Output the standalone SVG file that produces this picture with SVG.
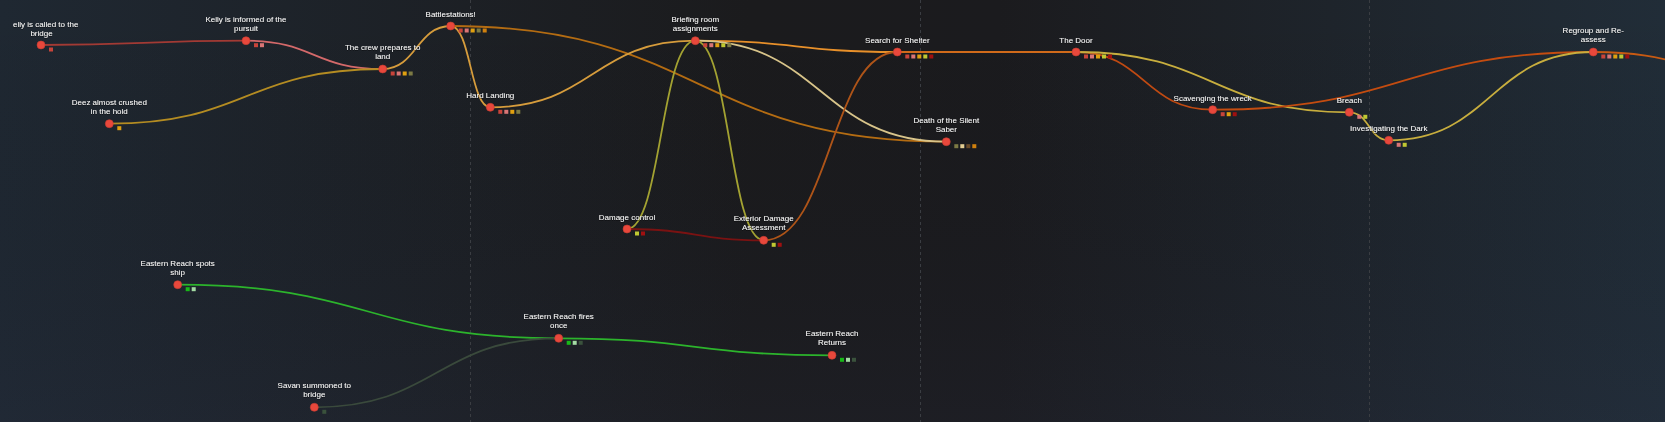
<svg xmlns="http://www.w3.org/2000/svg" width="1665" height="422" viewBox="0 0 1665 422">
<defs>
<linearGradient id="bg" x1="0" y1="0" x2="1" y2="0">
<stop offset="0" stop-color="#1f2832"/>
<stop offset="0.45" stop-color="#1b1b1d"/>
<stop offset="0.6" stop-color="#1b1b1e"/>
<stop offset="1" stop-color="#212d38"/>
</linearGradient>
<linearGradient id="bgv" x1="0" y1="0" x2="0" y2="1">
<stop offset="0" stop-color="#000" stop-opacity="0"/>
<stop offset="1" stop-color="#2a2f48" stop-opacity="0.15"/>
</linearGradient>
<filter id="ts" x="-10%" y="-30%" width="120%" height="160%">
<feDropShadow dx="0" dy="0.5" stdDeviation="0.6" flood-color="#000" flood-opacity="0.9"/>
</filter>
</defs>
<style>
.lbl{font-family:"Liberation Sans",Arial,sans-serif;font-size:8px;fill:#f2f2f2;text-anchor:middle;filter:url(#ts)}
.nd{fill:#e8483c;stroke:#c83a30;stroke-width:0.6}
.e{fill:none;stroke-width:1.8;stroke-linecap:round}
.grid{stroke:#3a3d42;stroke-width:1;stroke-dasharray:3,3}
</style>
<rect width="1665" height="422" fill="url(#bg)"/>
<rect width="1665" height="422" fill="url(#bgv)"/>
<g id="grid">
<line class="grid" x1="470.5" y1="0" x2="470.5" y2="422"/>
<line class="grid" x1="920.5" y1="0" x2="920.5" y2="422"/>
<line class="grid" x1="1369.5" y1="0" x2="1369.5" y2="422"/>
</g>
<g id="connectors">
<path class="e" stroke="#a23a34" d="M41,45 C143.5,45 143.5,40.7 246,40.7"/>
<path class="e" stroke="#d4696a" d="M246,40.7 C314,40.7 314,69 382.7,69"/>
<path class="e" stroke="#b48c22" d="M109.3,123.7 C246,123.7 246,69 382.7,69"/>
<path class="e" stroke="#d69c3c" d="M382.7,69 C416.7,69 416.7,26 450.7,26"/>
<path class="e" stroke="#d69c3c" d="M450.7,26 C470.5,26 470.5,107.3 490.3,107.3"/>
<path class="e" stroke="#b46c12" d="M450.7,26 C698.5,26 698.5,141.7 946.3,141.7"/>
<path class="e" stroke="#d69c3c" d="M490.3,107.3 C592.8,107.3 592.8,40.7 695.3,40.7"/>
<path class="e" stroke="#e8902a" stroke-width="2.2" d="M695.3,40.7 C796.3,40.7 796.3,52 897.3,52"/>
<path class="e" stroke="#d8c48a" d="M695.3,40.7 C820.8,40.7 820.8,141.7 946.3,141.7"/>
<path class="e" stroke="#a3a232" d="M627,229 C661,229 661,40.7 695.3,40.7"/>
<path class="e" stroke="#a3a232" d="M695.3,40.7 C729.5,40.7 729.5,240.3 763.7,240.3"/>
<path class="e" stroke="#7a1212" d="M627,229 C695.3,229 695.3,240.3 763.7,240.3"/>
<path class="e" stroke="#ae5418" d="M763.7,240.3 C830.5,240.3 830.5,52 897.3,52"/>
<path class="e" stroke="#d06a1a" stroke-width="2.4" d="M897.3,52 L1076,52"/>
<path class="e" stroke="#c04a12" d="M1076,52 C1144.3,52 1144.3,109.7 1212.7,109.7"/>
<path class="e" stroke="#c8ae3e" d="M1076,52 C1212.7,52 1212.7,112.3 1349.3,112.3"/>
<path class="e" stroke="#c44c10" stroke-width="2.4" d="M1212.7,109.7 C1403,109.7 1403,52 1593.3,52"/>
<path class="e" stroke="#c8ae3e" d="M1349.3,112.3 C1369,112.3 1369,140.3 1388.7,140.3"/>
<path class="e" stroke="#c8ae3e" d="M1388.7,140.3 C1491,140.3 1491,52 1593.3,52"/>
<path class="e" stroke="#c85a12" stroke-width="2.2" d="M1593.3,52 C1681.5,52 1681.5,75 1770,75"/>
<path class="e" stroke="#2cb42c" d="M177.7,284.7 C368.2,284.7 368.2,338.3 558.7,338.3"/>
<path class="e" stroke="#3a4a3c" d="M314.3,407.3 C436.5,407.3 436.5,338.3 558.7,338.3"/>
<path class="e" stroke="#2cb42c" d="M558.7,338.3 C695.3,338.3 695.3,355.3 832,355.3"/>
</g>
<g id="n1" transform="translate(41,45)">
<text class="lbl" x="-28" y="-18" style="text-anchor:start">elly is called to the</text>
<text class="lbl" x="0.5" y="-9.5">bridge</text>
<circle class="nd" r="4"/>
<rect x="8" y="2.5" width="4" height="4" fill="#c8443a"/>
</g>
<g id="n2" transform="translate(246,40.7)">
<text class="lbl" x="0" y="-19">Kelly is informed of the</text>
<text class="lbl" x="0" y="-10">pursuit</text>
<circle class="nd" r="4"/>
<rect x="8" y="2.5" width="4" height="4" fill="#c8443a"/>
<rect x="14" y="2.5" width="4" height="4" fill="#d97575"/>
</g>
<g id="n3" transform="translate(382.7,69)">
<text class="lbl" x="0" y="-19">The crew prepares to</text>
<text class="lbl" x="0" y="-10">land</text>
<circle class="nd" r="4"/>
<rect x="8" y="2.5" width="4" height="4" fill="#c8443a"/>
<rect x="14" y="2.5" width="4" height="4" fill="#d97575"/>
<rect x="20" y="2.5" width="4" height="4" fill="#e0a010"/>
<rect x="26" y="2.5" width="4" height="4" fill="#7c7a44"/>
</g>
<g id="n4" transform="translate(109.3,123.7)">
<text class="lbl" x="0" y="-19">Deez almost crushed</text>
<text class="lbl" x="0" y="-10">in the hold</text>
<circle class="nd" r="4"/>
<rect x="8" y="2.5" width="4" height="4" fill="#e0a010"/>
</g>
<g id="n5" transform="translate(450.7,26)">
<text class="lbl" x="0" y="-9">Battlestations!</text>
<circle class="nd" r="4"/>
<rect x="8" y="2.5" width="4" height="4" fill="#c8443a"/>
<rect x="14" y="2.5" width="4" height="4" fill="#d97575"/>
<rect x="20" y="2.5" width="4" height="4" fill="#e0a010"/>
<rect x="26" y="2.5" width="4" height="4" fill="#7c7a44"/>
<rect x="32" y="2.5" width="4" height="4" fill="#d0800e"/>
</g>
<g id="n6" transform="translate(490.3,107.3)">
<text class="lbl" x="0" y="-9">Hard Landing</text>
<circle class="nd" r="4"/>
<rect x="8" y="2.5" width="4" height="4" fill="#c8443a"/>
<rect x="14" y="2.5" width="4" height="4" fill="#d97575"/>
<rect x="20" y="2.5" width="4" height="4" fill="#e0a010"/>
<rect x="26" y="2.5" width="4" height="4" fill="#7c7a44"/>
</g>
<g id="n7" transform="translate(695.3,40.7)">
<text class="lbl" x="0" y="-19">Briefing room</text>
<text class="lbl" x="0" y="-10">assignments</text>
<circle class="nd" r="4"/>
<rect x="8" y="2.5" width="4" height="4" fill="#c8443a"/>
<rect x="14" y="2.5" width="4" height="4" fill="#d97575"/>
<rect x="20" y="2.5" width="4" height="4" fill="#e0a010"/>
<rect x="26" y="2.5" width="4" height="4" fill="#c0c832"/>
<rect x="32" y="2.5" width="4" height="4" fill="#7c7a44"/>
</g>
<g id="n8" transform="translate(897.3,52)">
<text class="lbl" x="0" y="-9">Search for Shelter</text>
<circle class="nd" r="4"/>
<rect x="8" y="2.5" width="4" height="4" fill="#c8443a"/>
<rect x="14" y="2.5" width="4" height="4" fill="#d97575"/>
<rect x="20" y="2.5" width="4" height="4" fill="#e0a010"/>
<rect x="26" y="2.5" width="4" height="4" fill="#c0c832"/>
<rect x="32" y="2.5" width="4" height="4" fill="#a01010"/>
</g>
<g id="n9" transform="translate(1076,52)">
<text class="lbl" x="0" y="-9">The Door</text>
<circle class="nd" r="4"/>
<rect x="8" y="2.5" width="4" height="4" fill="#c8443a"/>
<rect x="14" y="2.5" width="4" height="4" fill="#d97575"/>
<rect x="20" y="2.5" width="4" height="4" fill="#e0a010"/>
<rect x="26" y="2.5" width="4" height="4" fill="#c0c832"/>
<rect x="32" y="2.5" width="4" height="4" fill="#a01010"/>
</g>
<g id="n10" transform="translate(946.3,141.7)">
<text class="lbl" x="0" y="-19">Death of the Silent</text>
<text class="lbl" x="0" y="-10">Saber</text>
<circle class="nd" r="4"/>
<rect x="8" y="2.5" width="4" height="4" fill="#7c7a44"/>
<rect x="14" y="2.5" width="4" height="4" fill="#e2cc92"/>
<rect x="20" y="2.5" width="4" height="4" fill="#6a4a28"/>
<rect x="26" y="2.5" width="4" height="4" fill="#d0800e"/>
</g>
<g id="n11" transform="translate(1212.7,109.7)">
<text class="lbl" x="0" y="-9">Scavenging the wreck</text>
<circle class="nd" r="4"/>
<rect x="8" y="2.5" width="4" height="4" fill="#c8443a"/>
<rect x="14" y="2.5" width="4" height="4" fill="#e0a010"/>
<rect x="20" y="2.5" width="4" height="4" fill="#a01010"/>
</g>
<g id="n12" transform="translate(1349.3,112.3)">
<text class="lbl" x="0" y="-9">Breach</text>
<circle class="nd" r="4"/>
<rect x="8" y="2.5" width="4" height="4" fill="#d97575"/>
<rect x="14" y="2.5" width="4" height="4" fill="#c0c832"/>
</g>
<g id="n13" transform="translate(1388.7,140.3)">
<text class="lbl" x="0" y="-9">Investigating the Dark</text>
<circle class="nd" r="4"/>
<rect x="8" y="2.5" width="4" height="4" fill="#d97575"/>
<rect x="14" y="2.5" width="4" height="4" fill="#c0c832"/>
</g>
<g id="n14" transform="translate(1593.3,52)">
<text class="lbl" x="0" y="-19">Regroup and Re-</text>
<text class="lbl" x="0" y="-10">assess</text>
<circle class="nd" r="4"/>
<rect x="8" y="2.5" width="4" height="4" fill="#c8443a"/>
<rect x="14" y="2.5" width="4" height="4" fill="#d97575"/>
<rect x="20" y="2.5" width="4" height="4" fill="#e0a010"/>
<rect x="26" y="2.5" width="4" height="4" fill="#c0c832"/>
<rect x="32" y="2.5" width="4" height="4" fill="#a01010"/>
</g>
<g id="n15" transform="translate(627,229)">
<text class="lbl" x="0" y="-9.5">Damage control</text>
<circle class="nd" r="4"/>
<rect x="8" y="2.5" width="4" height="4" fill="#c0c832"/>
<rect x="14" y="2.5" width="4" height="4" fill="#a01010"/>
</g>
<g id="n16" transform="translate(763.7,240.3)">
<text class="lbl" x="0" y="-19">Exterior Damage</text>
<text class="lbl" x="0" y="-10">Assessment</text>
<circle class="nd" r="4"/>
<rect x="8" y="2.5" width="4" height="4" fill="#c0c832"/>
<rect x="14" y="2.5" width="4" height="4" fill="#a01010"/>
</g>
<g id="n17" transform="translate(177.7,284.7)">
<text class="lbl" x="0" y="-18.5">Eastern Reach spots</text>
<text class="lbl" x="0" y="-9.5">ship</text>
<circle class="nd" r="4"/>
<rect x="8" y="2.5" width="4" height="4" fill="#18b818"/>
<rect x="14" y="2.5" width="4" height="4" fill="#a4dca4"/>
</g>
<g id="n18" transform="translate(314.3,407.3)">
<text class="lbl" x="0" y="-19">Savan summoned to</text>
<text class="lbl" x="0" y="-10">bridge</text>
<circle class="nd" r="4"/>
<rect x="8" y="2.5" width="4" height="4" fill="#3a523c"/>
</g>
<g id="n19" transform="translate(558.7,338.3)">
<text class="lbl" x="0" y="-19">Eastern Reach fires</text>
<text class="lbl" x="0" y="-10">once</text>
<circle class="nd" r="4"/>
<rect x="8" y="2.5" width="4" height="4" fill="#18b818"/>
<rect x="14" y="2.5" width="4" height="4" fill="#a4dca4"/>
<rect x="20" y="2.5" width="4" height="4" fill="#3a523c"/>
</g>
<g id="n20" transform="translate(832,355.3)">
<text class="lbl" x="0" y="-19">Eastern Reach</text>
<text class="lbl" x="0" y="-10">Returns</text>
<circle class="nd" r="4"/>
<rect x="8" y="2.5" width="4" height="4" fill="#18b818"/>
<rect x="14" y="2.5" width="4" height="4" fill="#a4dca4"/>
<rect x="20" y="2.5" width="4" height="4" fill="#3a523c"/>
</g>
</svg>
